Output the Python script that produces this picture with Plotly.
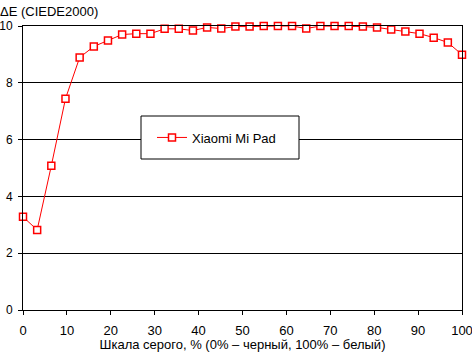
import plotly.graph_objects as go

# Grey scale steps (32 steps from 0% to 100%)
n_steps = 32
gray_percent = [i * 100 / (n_steps - 1) for i in range(n_steps)]
delta_e = [3.28, 2.82, 5.08, 7.44, 8.89, 9.28, 9.49, 9.70, 9.73, 9.73,
           9.90, 9.90, 9.84, 9.95, 9.91, 9.98, 9.98, 10.0, 10.0, 10.0,
           9.91, 10.0, 10.0, 10.0, 9.98, 9.95, 9.88, 9.81, 9.73, 9.59,
           9.42, 8.99]
series_name = "Xiaomi Mi Pad"
x_ticks = [0, 10, 20, 30, 40, 50, 60, 70, 80, 90, 100]
y_ticks = [0, 2, 4, 6, 8, 10]

FONT = "Liberation Sans, Arial, sans-serif"
FS = 13

fig = go.Figure()
fig.add_trace(go.Scatter(
    x=gray_percent, y=delta_e, name=series_name, mode="lines+markers",
    line=dict(color="#ff0000", width=1),
    marker=dict(symbol="square", size=7, color="white",
                line=dict(color="#ff0000", width=1.5)),
    cliponaxis=False,
))

W, H = 472, 352
ml, mr, mt, mb = 23, 10, 26, 42
pw, ph = W - ml - mr, H - mt - mb

def px_x(p):
    return (p - ml) / pw

def px_y(p):
    return (H - mb - p) / ph

fig.update_layout(
    width=W, height=H,
    margin=dict(l=ml, r=mr, t=mt, b=mb, autoexpand=False),
    paper_bgcolor="white", plot_bgcolor="white",
    font=dict(family=FONT, size=FS, color="black"),
    showlegend=True,
    legend=dict(x=px_x(152), y=px_y(137.5), xanchor="left", yanchor="middle",
                bgcolor="rgba(0,0,0,0)", borderwidth=0,
                font=dict(family=FONT, size=FS, color="black")),
    title=dict(text="ΔE (CIEDE2000)", xref="container", yref="container",
               x=0, xanchor="left", y=1 - 11 / H, yanchor="middle",
               font=dict(family=FONT, size=FS, color="black"), pad=dict(l=0, r=0, t=0, b=0)),
    shapes=[dict(type="rect", xref="paper", yref="paper",
                 x0=px_x(141), x1=px_x(299), y0=px_y(159), y1=px_y(116),
                 fillcolor="white", line=dict(color="black", width=1), layer="above")],
)
fig.update_xaxes(
    range=[0, 100], tickvals=x_ticks, showgrid=False, zeroline=False, automargin=False,
    showline=True, linecolor="black", linewidth=1, mirror=True,
    ticks="outside", ticklen=4, tickcolor="black", tickwidth=1, ticklabelstandoff=4,
    ticklabeloverflow="allow",
    title=dict(text="Шкала серого, % (0% – черный, 100% – белый)", standoff=2,
               font=dict(family=FONT, size=FS, color="black")),
)
fig.update_yaxes(
    range=[0, 10], tickvals=y_ticks, showgrid=True, gridcolor="black", gridwidth=1,
    zeroline=False, showline=True, linecolor="black", linewidth=1, mirror=True,
    automargin=False, ticklabeloverflow="allow",
    tickfont=dict(family=FONT, size=12, color="black"),
    ticks="outside", ticklen=4, tickcolor="black", tickwidth=1, ticklabelstandoff=3,
)

fig.write_html("out.html")
